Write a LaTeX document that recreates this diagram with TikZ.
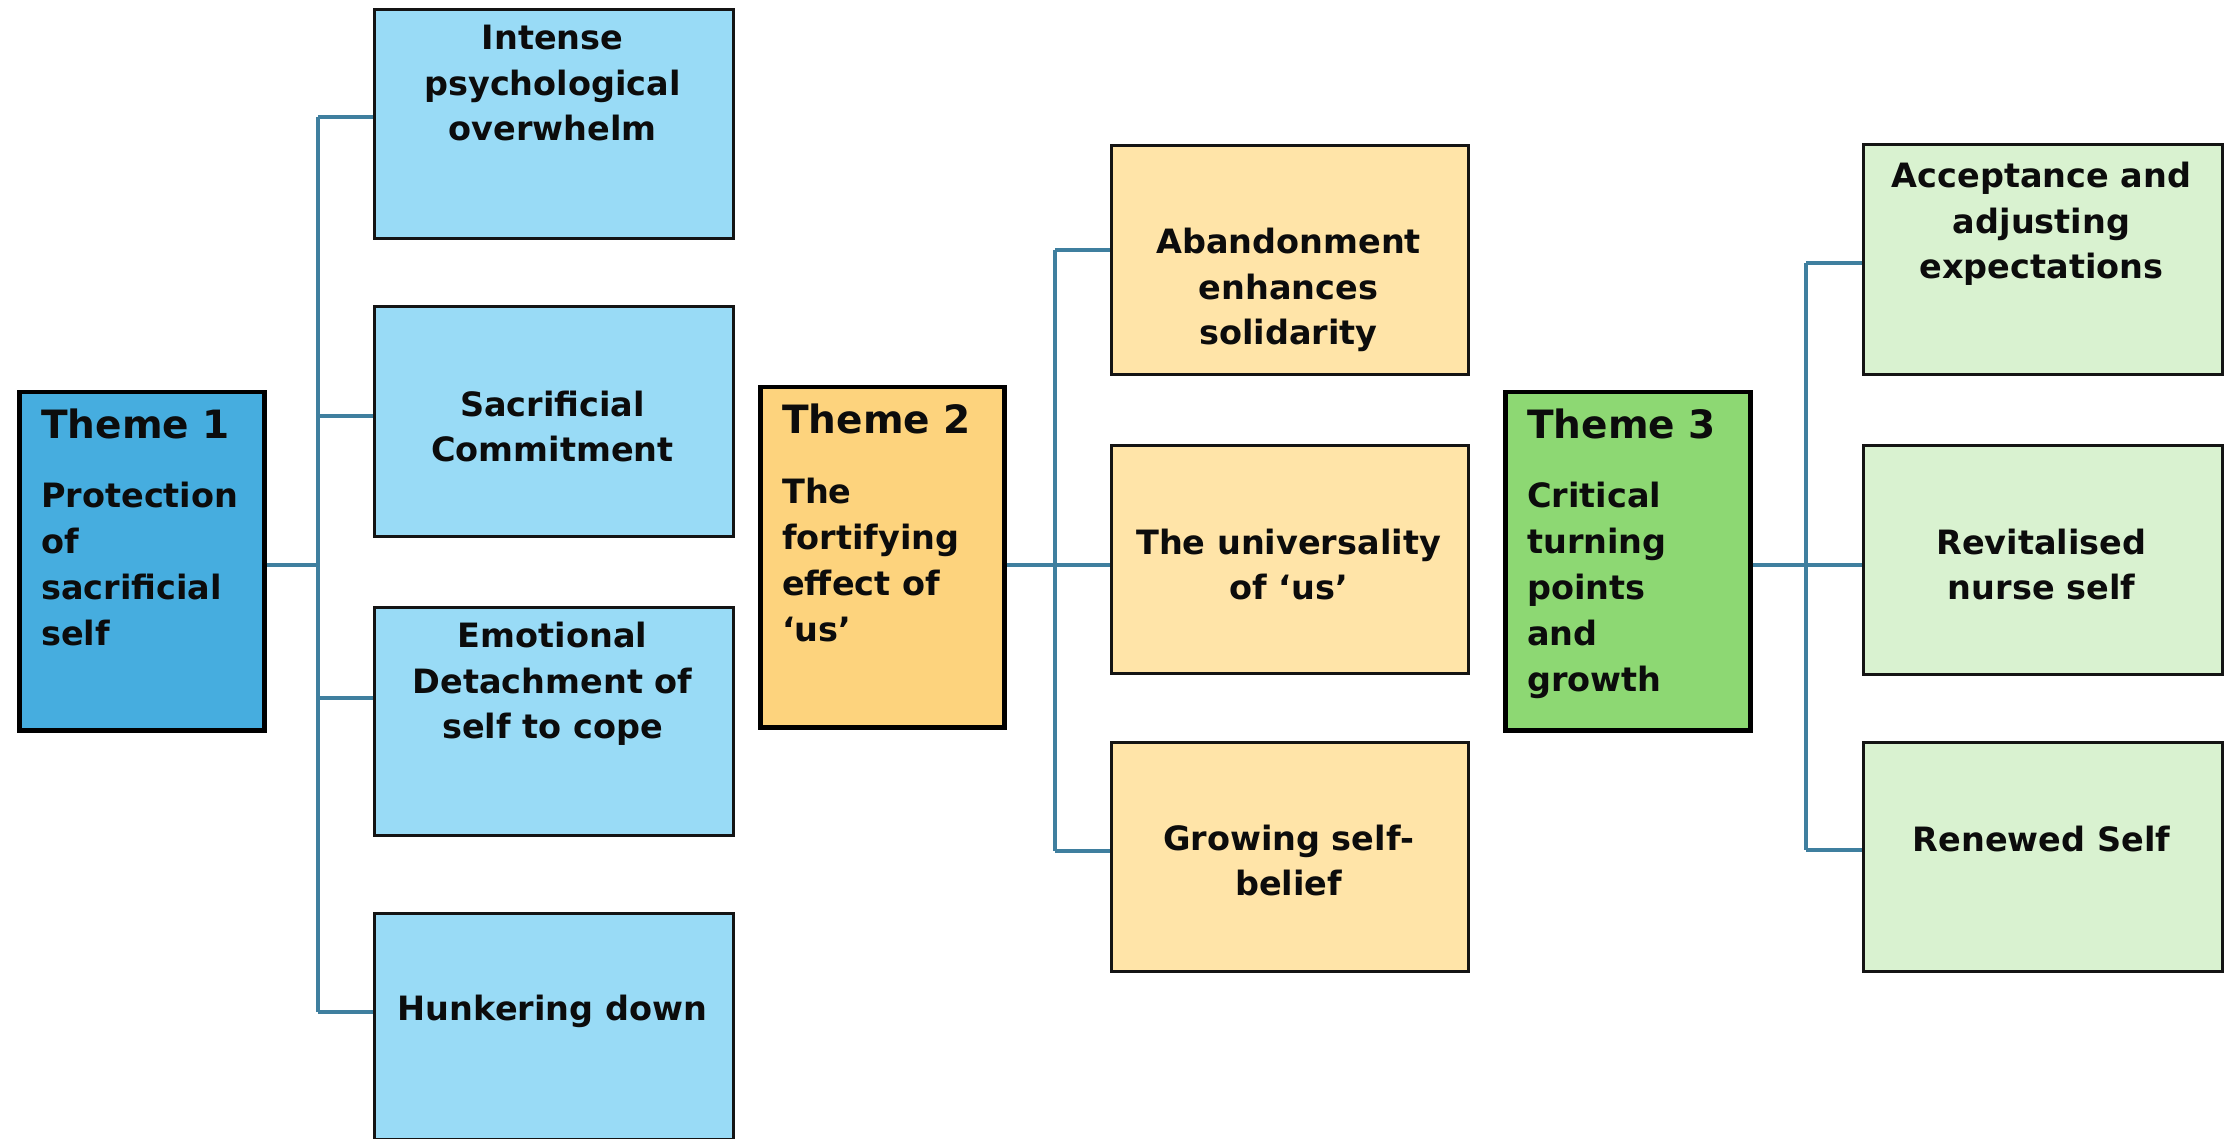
\documentclass[tikz,border=0pt]{standalone}
\usepackage{fontspec}
\setmainfont{DejaVu Sans}
\definecolor{tonefill}{HTML}{46ADDF}
\definecolor{conefill}{HTML}{99DBF6}
\definecolor{ttwofill}{HTML}{FDD37D}
\definecolor{ctwofill}{HTML}{FFE4A8}
\definecolor{tthreefill}{HTML}{8DD873}
\definecolor{cthreefill}{HTML}{D9F2D0}
\definecolor{lineblue}{HTML}{3F7F9F}
\definecolor{txt}{HTML}{0C0C0C}
\newcommand\mystrut{\rule[-9.6pt]{0pt}{43.6pt}}
\begin{document}
\begin{tikzpicture}[x=1pt,y=-1pt,
 themebox/.style={draw=black, line width=4.5pt, rectangle, inner sep=0pt, anchor=north west, minimum width=245pt, minimum height=338pt},
 subbox/.style={draw=black!92, line width=3.2pt, rectangle, inner sep=0pt, anchor=north west, minimum width=359pt, minimum height=229pt},
 subtext/.style={align=center, inner sep=0pt, anchor=center, text=txt, font=\fontsize{33.5pt}{45.5pt}\selectfont\bfseries},
 themetext/.style={align=left, inner sep=0pt, anchor=north west, text=txt, font=\fontsize{33.5pt}{46pt}\selectfont\bfseries, xshift=24pt, yshift=-14pt},
 conn/.style={draw=lineblue, line width=3.3pt}]
\fill[white] (0,0) rectangle (2231,1139);
\useasboundingbox (0,0) rectangle (2231,1139);

% connector junctions
\coordinate (j1) at (318,565);
\coordinate (k1a) at (318,117);
\coordinate (k1b) at (318,416);
\coordinate (k1c) at (318,698);
\coordinate (k1d) at (318,1012);
\coordinate (j2) at (1055,565);
\coordinate (k2a) at (1055,250);
\coordinate (k2c) at (1055,851);
\coordinate (j3) at (1806,565);
\coordinate (k3a) at (1806,263);
\coordinate (k3c) at (1806,850);

% theme boxes
\node[themebox, fill=tonefill] (T1) at (17,390) {};
\node[themebox, fill=ttwofill, minimum height=340pt, minimum width=244pt] (T2) at (758,385) {};
\node[themebox, fill=tthreefill] (T3) at (1503,390) {};

% sub boxes
\node[subbox, fill=conefill] (A1) at (373,8) {};
\node[subbox, fill=conefill, minimum height=230pt] (A2) at (373,305) {};
\node[subbox, fill=conefill, minimum height=228pt] (A3) at (373,606) {};
\node[subbox, fill=conefill, minimum height=226pt] (A4) at (373,912) {};

\node[subbox, fill=ctwofill, minimum width=357pt] (B1) at (1110,144) {};
\node[subbox, fill=ctwofill, minimum width=357pt, minimum height=228pt] (B2) at (1110,444) {};
\node[subbox, fill=ctwofill, minimum width=357pt] (B3) at (1110,741) {};

\node[subbox, fill=cthreefill, minimum height=230pt] (C1) at (1862,143) {};
\node[subbox, fill=cthreefill] (C2) at (1862,444) {};
\node[subbox, fill=cthreefill] (C3) at (1862,741) {};

% connectors
\draw[conn] (T1.east |- j1) -- (j1);
\draw[conn] (k1a) -- (k1d);
\draw[conn] (k1a) -- (A1.west |- k1a);
\draw[conn] (k1b) -- (A2.west |- k1b);
\draw[conn] (k1c) -- (A3.west |- k1c);
\draw[conn] (k1d) -- (A4.west |- k1d);

\draw[conn] (T2.east |- j2) -- (B2.west |- j2);
\draw[conn] (k2a) -- (k2c);
\draw[conn] (k2a) -- (B1.west |- k2a);
\draw[conn] (k2c) -- (B3.west |- k2c);

\draw[conn] (T3.east |- j3) -- (C2.west |- j3);
\draw[conn] (k3a) -- (k3c);
\draw[conn] (k3a) -- (C1.west |- k3a);
\draw[conn] (k3c) -- (C3.west |- k3c);

% theme texts
\node[themetext] (T1t) at (T1.north west) {{\fontsize{39pt}{46pt}\selectfont\mystrut Theme 1}\\[23pt]\mystrut Protection\\\mystrut of\\\mystrut sacrificial\\\mystrut self};
\node[themetext] (T2t) at (T2.north west) {{\fontsize{39pt}{46pt}\selectfont\mystrut Theme 2}\\[24pt]\mystrut The\\\mystrut fortifying\\\mystrut effect of\\\mystrut ‘us’};
\node[themetext] (T3t) at (T3.north west) {{\fontsize{39pt}{46pt}\selectfont\mystrut Theme 3}\\[23pt]\mystrut Critical\\\mystrut turning\\\mystrut points\\\mystrut and\\\mystrut growth};

% sub texts
\node[subtext] (A1t) at (552.5,83) {\mystrut Intense\\\mystrut psychological\\\mystrut overwhelm};
\node[subtext] (A2t) at (552.5,427) {\mystrut Sacrificial\\\mystrut Commitment};
\node[subtext] (A3t) at (552.5,681) {\mystrut Emotional\\\mystrut Detachment of\\\mystrut self to cope};
\node[subtext] (A4t) at (552.5,1008) {\mystrut Hunkering down};

\node[subtext] (B1t) at (1288.5,287) {\mystrut Abandonment\\\mystrut enhances\\\mystrut solidarity};
\node[subtext] (B2t) at (1288.5,565) {\mystrut The universality\\\mystrut of ‘us’};
\node[subtext] (B3t) at (1288.5,861) {\mystrut Growing self-\\\mystrut belief};

\node[subtext] (C1t) at (2041.5,221) {\mystrut Acceptance and\\\mystrut adjusting\\\mystrut expectations};
\node[subtext] (C2t) at (2041.5,565) {\mystrut Revitalised\\\mystrut nurse self};
\node[subtext] (C3t) at (2041.5,839) {\mystrut Renewed Self};
\end{tikzpicture}
\end{document}
